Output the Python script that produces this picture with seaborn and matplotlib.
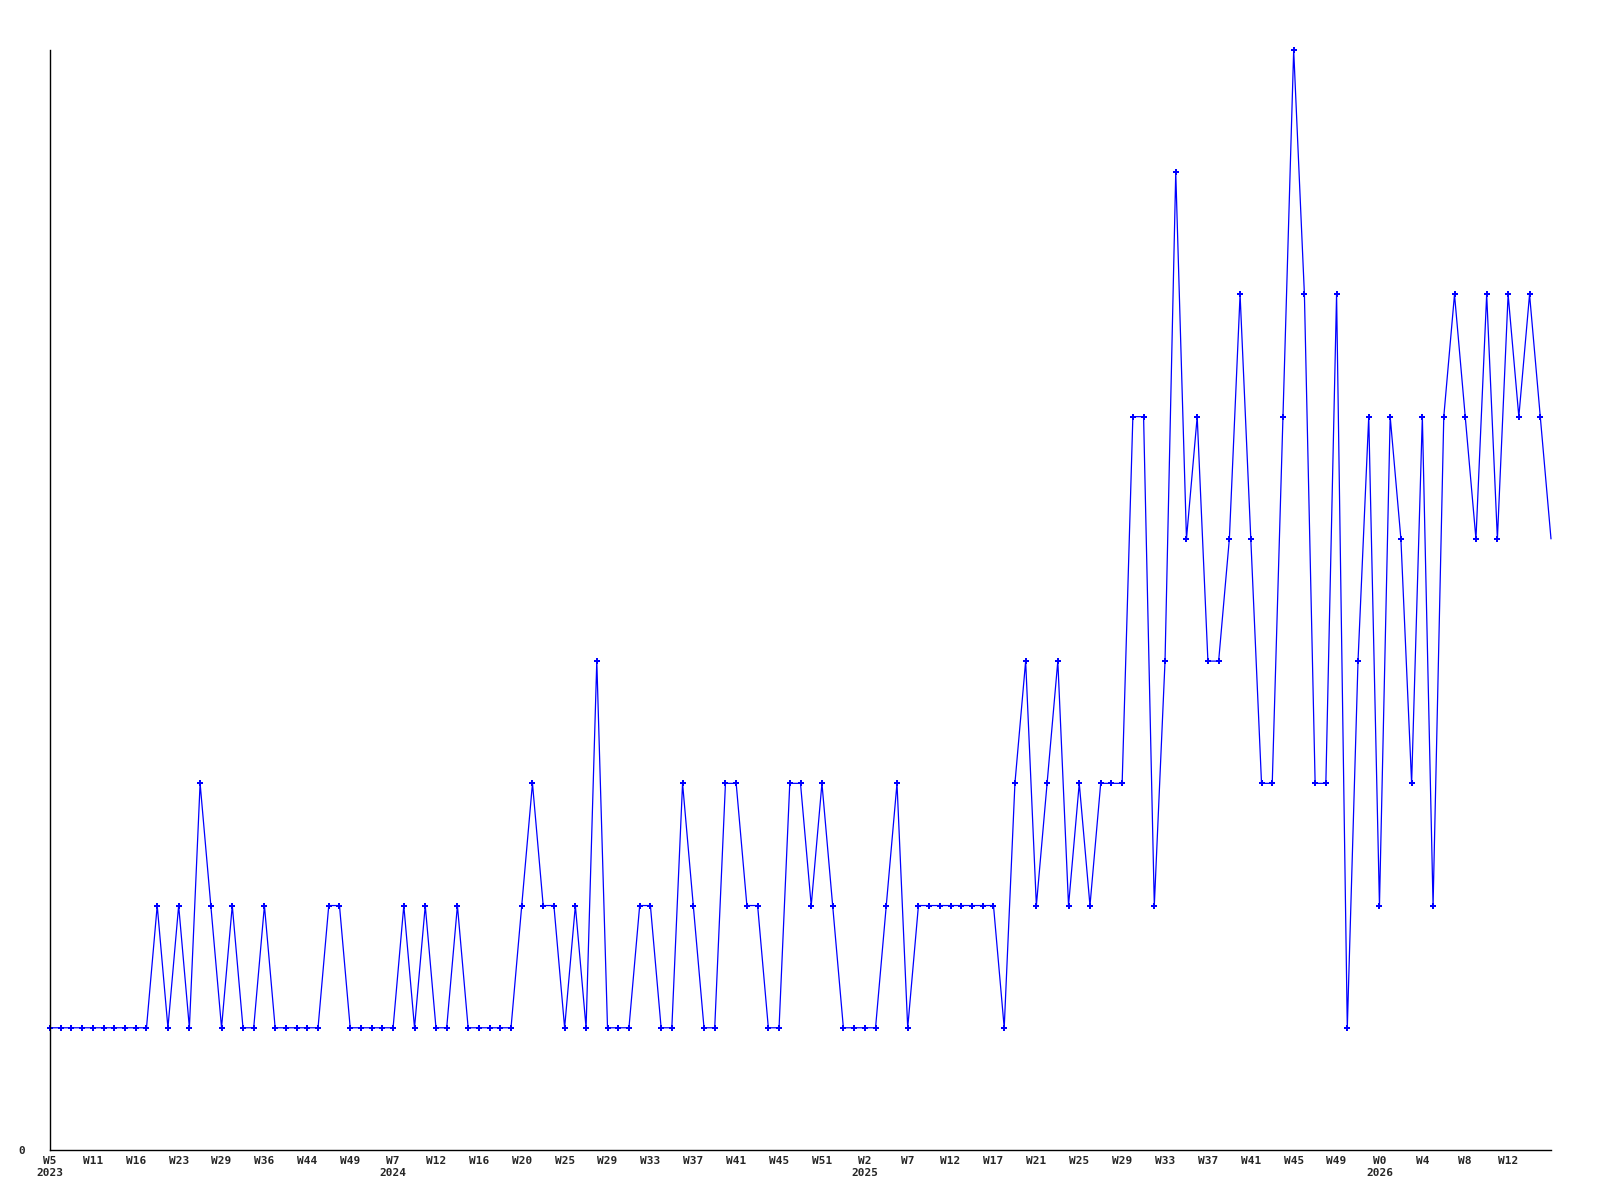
import matplotlib
matplotlib.use('Agg')
import matplotlib.pyplot as plt
import seaborn as sns
import pandas as pd

# weekly counts, one point per reported week
counts = [1, 1, 1, 1, 1, 1, 1, 1, 1, 1,
          2, 1, 2, 1, 3, 2, 1, 2, 1, 1,
          2, 1, 1, 1, 1, 1, 2, 2, 1, 1,
          1, 1, 1, 2, 1, 2, 1, 1, 2, 1,
          1, 1, 1, 1, 2, 3, 2, 2, 1, 2,
          1, 4, 1, 1, 1, 2, 2, 1, 1, 3,
          2, 1, 1, 3, 3, 2, 2, 1, 1, 3,
          3, 2, 3, 2, 1, 1, 1, 1, 2, 3,
          1, 2, 2, 2, 2, 2, 2, 2, 2, 1,
          3, 4, 2, 3, 4, 2, 3, 2, 3, 3,
          3, 6, 6, 2, 4, 8, 5, 6, 4, 4,
          5, 7, 5, 3, 3, 6, 9, 7, 3, 3,
          7, 1, 4, 6, 2, 6, 5, 3, 6, 2,
          6, 7, 6, 5, 7, 5, 7, 6, 7, 6,
          5]

# labels shown every 4th point
week_labels = ['W5', 'W11', 'W16', 'W23', 'W29', 'W36', 'W44', 'W49', 'W7',
               'W12', 'W16', 'W20', 'W25', 'W29', 'W33', 'W37', 'W41', 'W45',
               'W51', 'W2', 'W7', 'W12', 'W17', 'W21', 'W25', 'W29', 'W33',
               'W37', 'W41', 'W45', 'W49', 'W0', 'W4', 'W8', 'W12']
# year printed under the week label with this label number
year_marks = {0: '2023', 8: '2024', 19: '2025', 31: '2026'}
label_step = 4

df = pd.DataFrame({'idx': range(len(counts)), 'count': counts})

sns.set_style('white')
plt.rcParams['font.family'] = ['DejaVu Sans Mono', 'DejaVu Sans']

fig = plt.figure(figsize=(16, 12), dpi=100)
ax = fig.add_axes([50 / 1600, 50 / 1200, 1501 / 1600, 1100 / 1200])

# last point sits on the right edge and has no marker in the original
sns.lineplot(data=df, x='idx', y='count', ax=ax, color='#0000ff', linewidth=0.9,
             marker='P', markersize=5, markeredgewidth=0, markerfacecolor='#0000ff',
             markevery=list(range(len(counts) - 1)), clip_on=False)

ax.set_xlim(0, len(counts) - 1)
ax.set_ylim(0, 9)

ticks = []
labels = []
for n, w in enumerate(week_labels):
    ticks.append(n * label_step)
    if n in year_marks:
        labels.append(w + '\n' + year_marks[n])
    else:
        labels.append(w)
ax.set_xticks(ticks)
ax.set_xticklabels(labels, fontsize=8, fontweight='bold', linespacing=1.25)
ax.set_yticks([0])
ax.set_yticklabels(['0'], fontsize=8, fontweight='bold')
ax.tick_params(axis='x', length=0, pad=4)
ax.tick_params(axis='y', length=0, pad=18)

ax.set_xlabel('')
ax.set_ylabel('')
sns.despine(ax=ax)
for side in ['left', 'bottom']:
    ax.spines[side].set_color('black')
    ax.spines[side].set_linewidth(1.0)

fig.savefig('out.png', dpi=100)
